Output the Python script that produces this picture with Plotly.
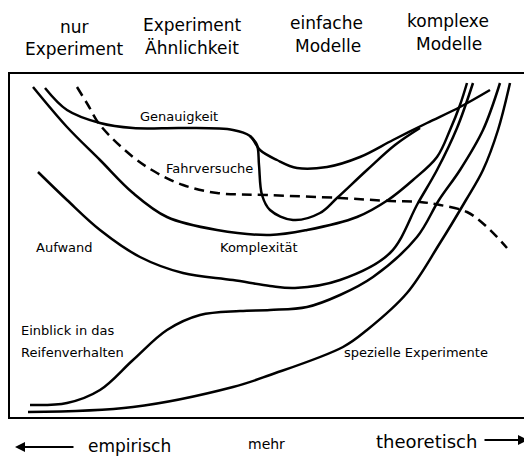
import plotly.graph_objects as go

# Curves (image pixel coordinates, y grows downward)
genau_x = [45, 67, 100, 133, 183, 233, 250, 260, 277, 297, 327, 360, 393, 427, 460, 490]
genau_y = [88, 110, 123, 128, 128, 130, 136, 150, 160, 168, 167, 157, 140, 123, 107, 90]

genau2_x = [250, 257, 259, 262, 270, 293, 320, 337, 367, 395, 420]
genau2_y = [136, 145, 165, 195, 210, 220, 213, 198, 170, 145, 128]

fahr_x = [77, 88, 100, 133, 157, 183, 217, 267, 340, 390, 420, 440, 467, 487, 507]
fahr_y = [87, 105, 125, 157, 173, 185, 193, 195, 198, 201, 202, 205, 212, 227, 248]

komplex_x = [33, 67, 100, 133, 167, 217, 270, 307, 357, 388, 413, 437, 450, 460, 467]
komplex_y = [87, 127, 160, 193, 217, 230, 235, 230, 217, 200, 180, 157, 130, 105, 83]

aufwand_x = [38, 67, 100, 140, 183, 233, 270, 295, 340, 390, 418, 437, 457, 473]
aufwand_y = [172, 200, 230, 257, 273, 280, 286, 288, 280, 253, 203, 170, 128, 83]

einblick_x = [30, 67, 100, 133, 167, 200, 240, 270, 307, 340, 373, 417, 439, 460, 483, 500]
einblick_y = [405, 403, 390, 360, 330, 315, 311, 310, 307, 295, 277, 237, 200, 170, 130, 83]

spez_x = [28, 133, 233, 270, 343, 367, 407, 440, 466, 483, 498, 510]
spez_y = [412, 407, 387, 375, 347, 330, 293, 243, 200, 170, 130, 83]

FONT = "DejaVu Sans"
BOX = dict(x0=9, x1=527, y0=73, y1=418)
PAGE_OFFSET = 8  # default body margin of the html page

fig = go.Figure()

solid = [(genau_x, genau_y), (genau2_x, genau2_y), (komplex_x, komplex_y),
         (aufwand_x, aufwand_y), (einblick_x, einblick_y), (spez_x, spez_y)]
for xs, ys in solid:
    fig.add_trace(go.Scatter(x=xs, y=ys, mode='lines',
                             line=dict(color='black', width=2.5, shape='spline', smoothing=1.0),
                             showlegend=False, hoverinfo='skip'))

fig.add_trace(go.Scatter(x=fahr_x, y=fahr_y, mode='lines',
                         line=dict(color='black', width=2.5, shape='spline', smoothing=1.0, dash='10px,6px'),
                         showlegend=False, hoverinfo='skip'))

# frame
fig.add_shape(type='rect', line=dict(color='black', width=2), **BOX)

# headers
headers = [
    (74, 27, "nur"), (74, 49, "Experiment"),
    (192, 25, "Experiment"), (192, 48, "Ähnlichkeit"),
    (326, 23, "einfache"), (328, 46, "Modelle"),
    (448, 21, "komplexe"), (449, 44, "Modelle"),
]
for x, y, txt in headers:
    fig.add_annotation(x=x, y=y, text=txt, showarrow=False,
                       font=dict(family=FONT, size=17, color='black'))

# labels inside
labels = [
    (179, 116, "Genauigkeit"),
    (209, 168, "Fahrversuche"),
    (64, 247, "Aufwand"),
    (259, 247, "Komplexität"),
    (416, 352, "spezielle Experimente"),
]
for x, y, txt in labels:
    fig.add_annotation(x=x, y=y, text=txt, showarrow=False,
                       font=dict(family=FONT, size=13, color='black'))
fig.add_annotation(x=19, y=330, text="Einblick in das", showarrow=False, xanchor='left',
                   font=dict(family=FONT, size=13, color='black'))
fig.add_annotation(x=19, y=352, text="Reifenverhalten", showarrow=False, xanchor='left',
                   font=dict(family=FONT, size=13, color='black'))

# bottom axis texts and arrows
fig.add_annotation(x=129, y=446, text="empirisch", showarrow=False,
                   font=dict(family=FONT, size=17, color='black'))
fig.add_annotation(x=266, y=444, text="mehr", showarrow=False,
                   font=dict(family=FONT, size=14, color='black'))
fig.add_annotation(x=426, y=441, text="theoretisch", showarrow=False,
                   font=dict(family=FONT, size=18, color='black'))
fig.add_annotation(x=15, y=447, ax=75, ay=447, axref='x', ayref='y', text="",
                   showarrow=True, arrowhead=2, arrowsize=1, arrowwidth=2, arrowcolor='black')
fig.add_annotation(x=528, y=440, ax=483, ay=440, axref='x', ayref='y', text="",
                   showarrow=True, arrowhead=2, arrowsize=1, arrowwidth=2, arrowcolor='black')

fig.update_layout(
    width=532, height=461,
    margin=dict(l=0, r=0, t=0, b=0),
    plot_bgcolor='white', paper_bgcolor='white',
    xaxis=dict(range=[PAGE_OFFSET, 532 + PAGE_OFFSET], visible=False, fixedrange=True),
    yaxis=dict(range=[461 + PAGE_OFFSET, PAGE_OFFSET], visible=False, fixedrange=True),
)

fig.write_html("out.html")
